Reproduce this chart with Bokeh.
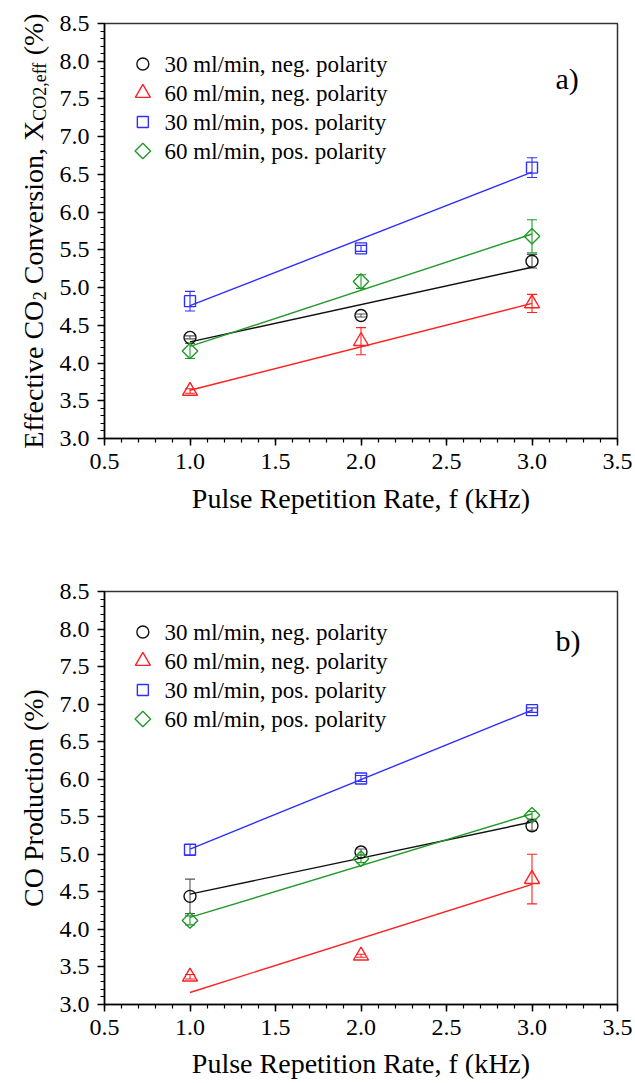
import math
from bokeh.plotting import figure
from bokeh.layouts import column, row
from bokeh.models import (ColumnDataSource, Whisker, TeeHead, Label,
                          SingleIntervalTicker, NumeralTickFormatter, Range1d)
from bokeh.embed import file_html
from bokeh.resources import INLINE

# ---------------- data ----------------
freq = [1.0, 2.0, 3.0]
series_labels = ["30 ml/min, neg. polarity", "60 ml/min, neg. polarity",
                 "30 ml/min, pos. polarity", "60 ml/min, pos. polarity"]
series_colors = ["#111111", "#ff2020", "#2f2fff", "#22992a"]
series_markers = ["circle", "triangle", "square", "diamond"]

# panel a) effective CO2 conversion (%)
a_30_neg = [4.34, 4.63, 5.35]
a_60_neg = [3.63, 4.29, 4.79]
a_30_pos = [4.82, 5.52, 6.59]
a_60_pos = [4.16, 5.08, 5.68]
a_30_neg_err = [0.02, 0.02, 0.09]
a_60_neg_err = [0.03, 0.18, 0.12]
a_30_pos_err = [0.13, 0.04, 0.13]
a_60_pos_err = [0.10, 0.09, 0.22]
a_fit_start = [4.28, 3.64, 4.76, 4.22]   # linear fit value at first frequency
a_fit_end = [5.27, 4.79, 6.53, 5.71]     # linear fit value at last frequency

# panel b) CO production (%)
b_30_neg = [4.44, 5.03, 5.38]
b_60_neg = [3.37, 3.65, 4.67]
b_30_pos = [5.06, 6.01, 6.92]
b_60_pos = [4.12, 4.94, 5.52]
b_30_neg_err = [0.23, 0.04, 0.06]
b_60_neg_err = [0.03, 0.02, 0.33]
b_30_pos_err = [0.07, 0.04, 0.03]
b_60_pos_err = [0.06, 0.05, 0.05]
b_fit_start = [4.47, 3.16, 5.07, 4.16]
b_fit_end = [5.43, 4.60, 6.92, 5.54]

x_title = "Pulse Repetition Rate, f (kHz)"
x_range = (0.5, 3.5)
y_range = (3.0, 8.5)

FONT = "Liberation Serif"
TITLE_W = 56
FW = 515

# Times / Liberation Serif advance widths (per 1000 em)
_W = {' ': 250, 'E': 611, 'f': 333, 'e': 444, 'c': 444, 't': 278, 'i': 278, 'v': 500,
      'C': 667, 'O': 722, '2': 500, 'n': 500, 'o': 500, 'r': 333, 's': 389, ',': 250,
      'X': 722, '(': 333, '%': 833, ')': 333, 'P': 556, 'd': 500, 'u': 500}


def text_width(s, size):
    return sum(_W.get(ch, 500) for ch in s) / 1000.0 * size


def marker_glyph(p, src, mk, col, **kw):
    spec = dict(line_color=col, line_width=1.4, fill_color=None)
    if mk == "diamond":
        return p.scatter("x", "y", source=src, marker="square", angle=math.pi / 4, size=11, **spec, **kw)
    if mk == "triangle":
        return p.scatter("x", "y", source=src, marker="triangle", size=15, **spec, **kw)
    if mk == "square":
        return p.scatter("x", "y", source=src, marker="square", size=11, **spec, **kw)
    return p.scatter("x", "y", source=src, marker="circle", size=12, **spec, **kw)


def make_panel(height, border_top, border_bottom, FH, values, errors, fit_start, fit_end,
               tag, tag_y, label_standoff):
    p = figure(width=46 + FW + 18, height=height, output_backend="svg", toolbar_location=None,
               x_range=Range1d(*x_range), y_range=Range1d(*y_range),
               min_border_left=46, min_border_right=18,
               min_border_top=border_top, min_border_bottom=border_bottom,
               background_fill_color="white", border_fill_color="white")
    p.frame_align = False
    p.extra_x_ranges = {"px": Range1d(0, FW)}
    p.extra_y_ranges = {"py": Range1d(0, FH)}
    p.grid.visible = False
    p.outline_line_color = "#333333"
    p.outline_line_width = 1.5

    for ax in (p.xaxis[0], p.yaxis[0]):
        ax.ticker = SingleIntervalTicker(interval=0.5, num_minor_ticks=5)
        ax.formatter = NumeralTickFormatter(format="0.0")
        ax.axis_line_width = 1.5
        ax.axis_line_color = "black"
        ax.major_tick_line_width = 1.5
        ax.minor_tick_line_width = 1.2
        ax.major_tick_out = 7
        ax.major_tick_in = 0
        ax.minor_tick_out = 4
        ax.minor_tick_in = 0
        ax.major_label_text_font = FONT
        ax.major_label_text_font_size = "24px"
        ax.major_label_text_color = "black"
        ax.major_label_standoff = 8
    xa = p.xaxis[0]
    xa.axis_label = x_title
    xa.axis_label_text_font = FONT
    xa.axis_label_text_font_size = "28px"
    xa.axis_label_text_font_style = "normal"
    xa.axis_label_text_color = "black"
    xa.axis_label_standoff = label_standoff

    for i, (vals, errs, col, mk, lbl, f0, f1) in enumerate(
            zip(values, errors, series_colors, series_markers, series_labels, fit_start, fit_end)):
        p.line([freq[0], freq[-1]], [f0, f1], line_color=col, line_width=1.4)
        src = ColumnDataSource(dict(x=freq, y=vals,
                                    upper=[v + e for v, e in zip(vals, errs)],
                                    lower=[v - e for v, e in zip(vals, errs)]))
        wcol = "#555555" if col == "#111111" else col
        p.add_layout(Whisker(source=src, base="x", upper="upper", lower="lower",
                             dimension="height", line_color=wcol, line_width=1.1,
                             upper_head=TeeHead(size=10, line_color=wcol, line_width=1.1),
                             lower_head=TeeHead(size=10, line_color=wcol, line_width=1.1)))
        marker_glyph(p, src, mk, col)

        # legend entry (key marker in pixel space of the frame + text)
        ky = FH - 40.5 - 29 * i
        ksrc = ColumnDataSource(dict(x=[38.5], y=[ky]))
        marker_glyph(p, ksrc, mk, col, x_range_name="px", y_range_name="py")
        p.add_layout(Label(x=60, y=ky, x_units="screen", y_units="screen", text=lbl,
                           text_font=FONT, text_font_size="23px", text_color="black",
                           text_align="left", text_baseline="middle"))

    p.add_layout(Label(x=451, y=FH - tag_y, x_units="screen", y_units="screen",
                       text=tag, text_font=FONT, text_font_size="30px", text_color="black",
                       text_align="left", text_baseline="alphabetic"))
    return p


def make_title(height, center_y, parts):
    t = figure(width=TITLE_W, height=height, output_backend="svg", toolbar_location=None,
               x_range=Range1d(0, 1), y_range=Range1d(0, 1), min_border=0,
               x_axis_location=None, y_axis_location=None,
               background_fill_color="white", border_fill_color="white")
    t.frame_align = False
    t.title.visible = False
    t.grid.visible = False
    t.outline_line_color = None
    total = sum(text_width(s, 18 if sub else 28) for s, sub in parts)
    ypos = center_y - total / 2
    for s, sub in parts:
        size = 18 if sub else 28
        lead = len(s) - len(s.lstrip(" "))
        ypos += text_width(" " * lead, size)
        body = s.lstrip(" ")
        t.add_layout(Label(x=39 if sub else 33, y=ypos, x_units="screen", y_units="screen",
                           text=body, text_font=FONT, text_font_size=f"{size}px",
                           text_color="black", angle=math.pi / 2, angle_units="rad",
                           text_align="left", text_baseline="alphabetic"))
        ypos += text_width(body, size)
    return t


H1, H2 = 548, 534
pa = make_panel(H1, 23, H1 - 23 - 415, 415,
                [a_30_neg, a_60_neg, a_30_pos, a_60_pos],
                [a_30_neg_err, a_60_neg_err, a_30_pos_err, a_60_pos_err],
                a_fit_start, a_fit_end, "a)", 55, 11)
pb = make_panel(H2, 591 - H1, H2 - (591 - H1) - 413, 413,
                [b_30_neg, b_60_neg, b_30_pos, b_60_pos],
                [b_30_neg_err, b_60_neg_err, b_30_pos_err, b_60_pos_err],
                b_fit_start, b_fit_end, "b)", 49, 10)

ta = make_title(H1, H1 - 230.5,
                [("Effective CO", False), ("2", True), (" Conversion, X", False),
                 ("CO2,eff", True), (" (%)", False)])
tb = make_title(H2, H2 - (797.5 - H1), [("CO Production (%)", False)])

layout = column(row(ta, pa, spacing=0), row(tb, pb, spacing=0), spacing=0)
open("out.html", "w").write(file_html(layout, INLINE))
